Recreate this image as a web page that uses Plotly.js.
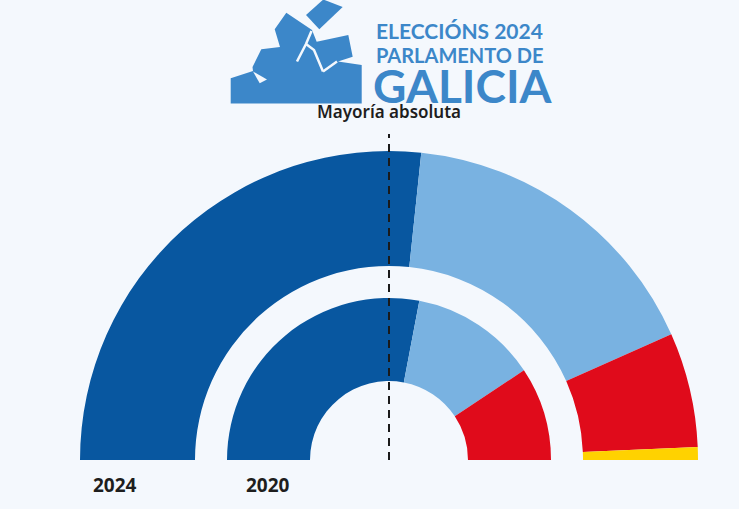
<!DOCTYPE html>
<html>
<head>
<meta charset="utf-8">
<script src="https://cdn.plot.ly/plotly-3.0.1.min.js"></script>
<style>
html,body{margin:0;padding:0;background:#f4f8fd;}
#chart{width:739px;height:509px;}
</style>
</head>
<body>
<div id="chart"></div>
<script>
// ---- data ----
var parties = ['PP', 'BNG', 'PSdeG', 'DO'];
var seats2024 = [40, 25, 9, 1];
var seats2020 = [42, 19, 14, 0];
var partyColors = ['#0857a0', '#79b2e1', '#e00b1b', '#ffd200'];
var totalSeats = 75;
var majority = 38;
var yearLabels = ['2024', '2020'];
var majorityLabel = 'Mayoría absoluta';

function ringTrace(seats, base, thickness, name) {
  var theta = [], width = [], r = [], bases = [];
  var cum = 0;
  for (var i = 0; i < seats.length; i++) {
    var deg = seats[i] * 180 / totalSeats;
    theta.push(cum + deg / 2);
    width.push(deg);
    r.push(thickness);
    bases.push(base);
    cum += deg;
  }
  return {
    type: 'barpolar', name: name,
    theta: theta, width: width, r: r, base: bases,
    text: parties, customdata: seats,
    marker: {color: partyColors, line: {width: 0}},
    hovertemplate: '%{text}: %{customdata}<extra>' + name + '</extra>'
  };
}

var majTheta = (majority - 0.5) * 180 / totalSeats;
var traces = [
  ringTrace(seats2024, 194, 115, yearLabels[0]),
  ringTrace(seats2020, 79, 83, yearLabels[1]),
  {
    type: 'scatterpolar', mode: 'lines',
    r: [0, 326], theta: [majTheta, majTheta],
    line: {color: '#1a1a1a', width: 2, dash: '8px,6px'},
    cliponaxis: false, hoverinfo: 'skip', showlegend: false
  }
];

var logoBlue = '#3c87c9';
var bg = '#f4f8fd';
function px(x, y) { return (x / 739).toFixed(5) + ',' + (1 - y / 509).toFixed(5); }
function poly(pts, close) {
  var s = 'M' + px(pts[0][0], pts[0][1]);
  for (var i = 1; i < pts.length; i++) s += ' L' + px(pts[i][0], pts[i][1]);
  return close ? s + ' Z' : s;
}
var iconFill = [
  [[230.7,103.5],[230.7,78.3],[253,71],[252.5,67],[261.3,49.3],[280,47],[274.7,29.3],[286.3,12.7],
   [312,30],[316.7,41.7],[348.3,35],[352.7,56.7],[338,61.5],[361.7,65],[361.7,103.5]],
  [[306,15],[323.3,-0.5],[342.7,7],[319.3,29.3]]
];
var iconNotch = [
  [[253,71.5],[259.7,83.3],[267,79.5]]
];
var iconCracks = [
  [[311.5,31],[306,44],[297,61.5]],
  [[306,44],[314,50],[323,71.5]],
  [[323,71.5],[337,61.5]]
];
var shapes = [];
iconFill.forEach(function(p){
  shapes.push({type:'path', xref:'paper', yref:'paper', fillcolor: logoBlue, line:{width:0}, path: poly(p, true)});
});
iconNotch.forEach(function(p){
  shapes.push({type:'path', xref:'paper', yref:'paper', fillcolor: bg, line:{width:0}, path: poly(p, true)});
});
iconCracks.forEach(function(p){
  shapes.push({type:'path', xref:'paper', yref:'paper', line:{width:2.5, color: bg}, path: poly(p, false)});
});

var layout = {
  width: 739, height: 509,
  margin: {l: 0, r: 0, t: 0, b: 0},
  paper_bgcolor: bg, plot_bgcolor: bg,
  showlegend: false,
  polar: {
    domain: {x: [63/739, 715/739], y: [1 - 460/509, 1 - 134/509]},
    sector: [0, 180],
    bgcolor: 'rgba(0,0,0,0)',
    radialaxis: {range: [0, 326], visible: false, showgrid: false},
    angularaxis: {visible: false, direction: 'clockwise', rotation: 180, showgrid: false}
  },
  shapes: shapes,
  annotations: [
    {text: 'ELECCIÓNS 2024', xref: 'paper', yref: 'paper', x: 374/739, y: 1 - 30.5/509, xanchor: 'left', yanchor: 'middle', showarrow: false,
     font: {family: 'Lato', size: 21, weight: 700, color: logoBlue}},
    {text: 'PARLAMENTO DE', xref: 'paper', yref: 'paper', x: 374/739, y: 1 - 55/509, xanchor: 'left', yanchor: 'middle', showarrow: false,
     font: {family: 'Lato', size: 20, weight: 700, color: logoBlue}},
    {text: 'GALICIA', xref: 'paper', yref: 'paper', x: 371/739, y: 1 - 86/509, xanchor: 'left', yanchor: 'middle', showarrow: false,
     font: {family: 'Lato', size: 46, weight: 700, color: logoBlue}},
    {text: majorityLabel, xref: 'paper', yref: 'paper', x: 389/739, y: 1 - 112/509, xanchor: 'center', yanchor: 'middle', showarrow: false,
     font: {family: 'Noto Sans', size: 17, weight: 600, color: '#1e1e1e'}},
    {text: yearLabels[0], xref: 'paper', yref: 'paper', x: 114.5/739, y: 1 - 485/509, xanchor: 'center', yanchor: 'middle', showarrow: false,
     font: {family: 'Noto Sans', size: 19, weight: 700, color: '#1e1e1e'}},
    {text: yearLabels[1], xref: 'paper', yref: 'paper', x: 268/739, y: 1 - 485/509, xanchor: 'center', yanchor: 'middle', showarrow: false,
     font: {family: 'Noto Sans', size: 19, weight: 700, color: '#1e1e1e'}}
  ]
};

Plotly.newPlot('chart', traces, layout, {displayModeBar: false, staticPlot: true});
</script>
</body>
</html>
